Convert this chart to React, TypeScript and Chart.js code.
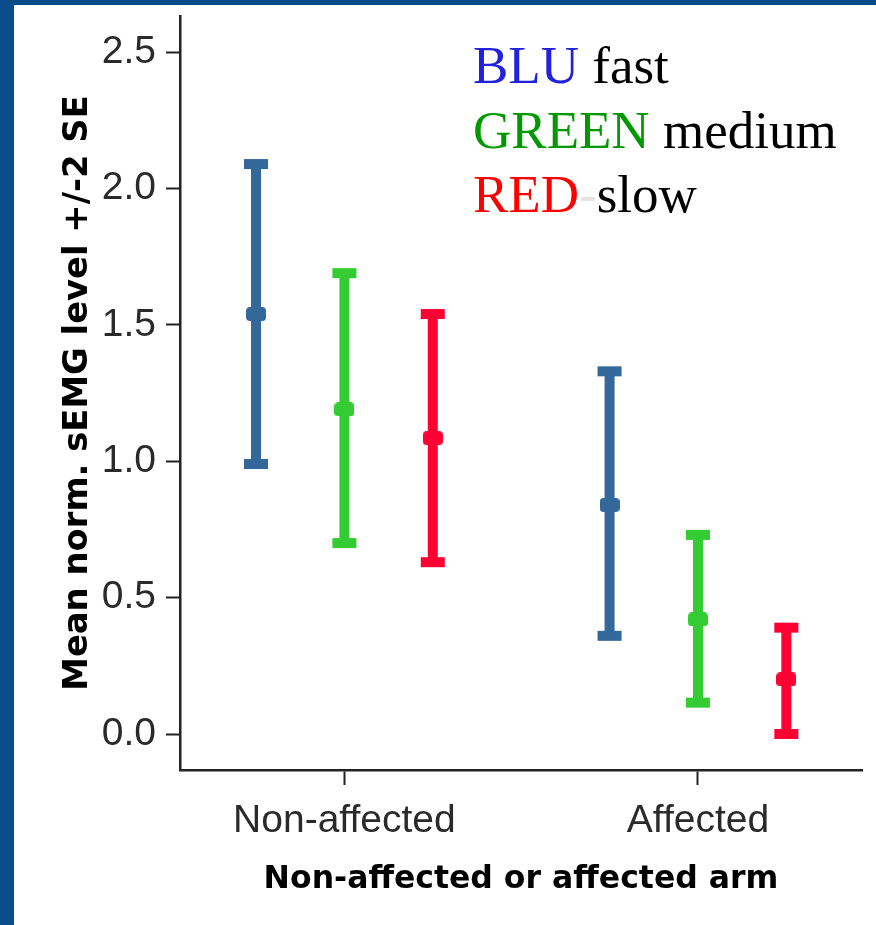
import React, { useEffect, useRef } from 'react';
import { Chart, registerables } from 'chart.js';

Chart.register(...registerables);

// ---- data ----
const categories = ['Non-affected', 'Affected'];
const seriesNames = ['fast', 'medium', 'slow'];

const fastMean = [1.54, 0.84];
const fastLower = [0.99, 0.36];
const fastUpper = [2.09, 1.33];

const mediumMean = [1.19, 0.42];
const mediumLower = [0.7, 0.115];
const mediumUpper = [1.69, 0.73];

const slowMean = [1.085, 0.2];
const slowLower = [0.63, 0.0];
const slowUpper = [1.54, 0.39];

const yTickValues = [0, 0.5, 1, 1.5, 2, 2.5];
const yTickLabels = ['0.0', '0.5', '1.0', '1.5', '2.0', '2.5'];

// ---- styles ----
const seriesColors = ['#34679a', '#33cc33', '#ff0033'];
const dodge = [-0.25, 0, 0.25];
const STEM_W = 10;
const CAP_W = 24;
const CAP_H = 10;
const TICK_FONT = 'Liberation Sans';
const TITLE_FONT = 'DejaVu Sans';

function makeMarker(color: string) {
  const c = document.createElement('canvas');
  c.width = 20;
  c.height = 14;
  const g = c.getContext('2d')!;
  g.fillStyle = color;
  g.beginPath();
  (g as any).roundRect(0, 0, 20, 14, 4);
  g.fill();
  return c;
}

const errorBarPlugin = {
  id: 'errorBars',
  beforeDatasetsDraw(chart: any) {
    const { ctx } = chart;
    const x = chart.scales.x;
    const y = chart.scales.y;
    chart.data.datasets.forEach((ds: any) => {
      ds.data.forEach((pt: any) => {
        const px = x.getPixelForValue(pt.x);
        const top = y.getPixelForValue(pt.hi);
        const bot = y.getPixelForValue(pt.lo);
        ctx.save();
        ctx.fillStyle = ds.borderColor;
        ctx.fillRect(px - STEM_W / 2, top, STEM_W, bot - top);
        ctx.fillRect(px - CAP_W / 2, top - CAP_H / 2, CAP_W, CAP_H);
        ctx.fillRect(px - CAP_W / 2, bot - CAP_H / 2, CAP_W, CAP_H);
        ctx.restore();
      });
    });
  },
};

export default function App() {
  const ref = useRef<HTMLCanvasElement | null>(null);

  useEffect(() => {
    if (!ref.current) return;
    const means = [fastMean, mediumMean, slowMean];
    const lowers = [fastLower, mediumLower, slowLower];
    const uppers = [fastUpper, mediumUpper, slowUpper];

    const datasets = seriesNames.map((name, k) => ({
      label: name,
      data: categories.map((_, i) => ({
        x: i + dodge[k],
        y: means[k][i],
        lo: lowers[k][i],
        hi: uppers[k][i],
      })),
      borderColor: seriesColors[k],
      backgroundColor: seriesColors[k],
      pointStyle: makeMarker(seriesColors[k]),
      pointRadius: 8,
      showLine: false,
    }));

    const chart = new Chart(ref.current, {
      type: 'scatter',
      data: { datasets },
      plugins: [errorBarPlugin],
      options: {
        animation: false,
        responsive: false,
        events: [],
        layout: { padding: { left: 0, right: 14, top: 11, bottom: 0 } },
        plugins: { legend: { display: false }, tooltip: { enabled: false } },
        scales: {
          x: {
            type: 'linear',
            position: 'bottom',
            min: -0.465,
            max: 1.464,
            afterBuildTicks: (s: any) => {
              s.ticks = categories.map((_, i) => ({ value: i }));
            },
            afterFit: (s: any) => {
              s.height = 155;
              s.paddingLeft = 0;
              s.paddingRight = 0;
            },
            ticks: {
              callback: (_v: any, i: number) => categories[i],
              font: { family: TICK_FONT, size: 39 },
              color: '#2a2a2a',
              padding: 13,
              autoSkip: false,
              maxRotation: 0,
            },
            grid: {
              display: true,
              drawOnChartArea: false,
              drawTicks: true,
              tickLength: 15,
              tickColor: '#222',
              tickWidth: 2,
            },
            border: { display: true, color: '#222', width: 2.5 },
            title: {
              display: true,
              text: 'Non-affected or affected arm',
              font: { family: TITLE_FONT, size: 31.5, weight: 'bold' },
              color: '#000',
              padding: { top: 0, bottom: 26 },
            },
          },
          y: {
            type: 'linear',
            min: -0.132,
            max: 2.633,
            afterBuildTicks: (s: any) => {
              s.ticks = yTickValues.map((v) => ({ value: v }));
            },
            afterFit: (s: any) => {
              s.width = 166;
              s.paddingTop = 0;
              s.paddingBottom = 0;
            },
            ticks: {
              callback: (_v: any, i: number) => yTickLabels[i],
              font: { family: TICK_FONT, size: 39 },
              color: '#2a2a2a',
              padding: 10,
            },
            grid: {
              display: true,
              drawOnChartArea: false,
              drawTicks: true,
              tickLength: 14,
              tickColor: '#222',
              tickWidth: 2,
            },
            border: { display: true, color: '#222', width: 2.5 },
            title: {
              display: true,
              text: 'Mean norm. sEMG level +/-2 SE',
              font: { family: TITLE_FONT, size: 33.8, weight: 'bold' },
              color: '#000',
              padding: { top: 44, bottom: 0 },
            },
          },
        },
      } as any,
    });
    return () => chart.destroy();
  }, []);

  return (
    <div
      style={{
        position: 'absolute',
        left: 0,
        top: 0,
        width: 876,
        height: 925,
        background: '#0a4b89',
        overflow: 'hidden',
      }}
    >
      <div
        style={{
          position: 'absolute',
          left: 14,
          top: 5,
          width: 862,
          height: 920,
          background: '#ffffff',
        }}
      >
        <canvas ref={ref} width={862} height={920} style={{ display: 'block', width: 862, height: 920 }} />
      </div>
      <div
        style={{
          position: 'absolute',
          left: 473,
          top: 33,
          fontFamily: '"Liberation Serif", "Times New Roman", serif',
          fontSize: 53,
          lineHeight: '64.5px',
          whiteSpace: 'nowrap',
          color: '#000',
        }}
      >
        <div>
          <span style={{ color: '#2222dd' }}>BLU</span> fast
        </div>
        <div>
          <span style={{ color: '#009900' }}>GREEN</span> medium
        </div>
        <div>
          <span style={{ color: '#ff0000' }}>RED</span>
          <span style={{ color: '#e2e2e2' }}>-</span>slow
        </div>
      </div>
    </div>
  );
}
